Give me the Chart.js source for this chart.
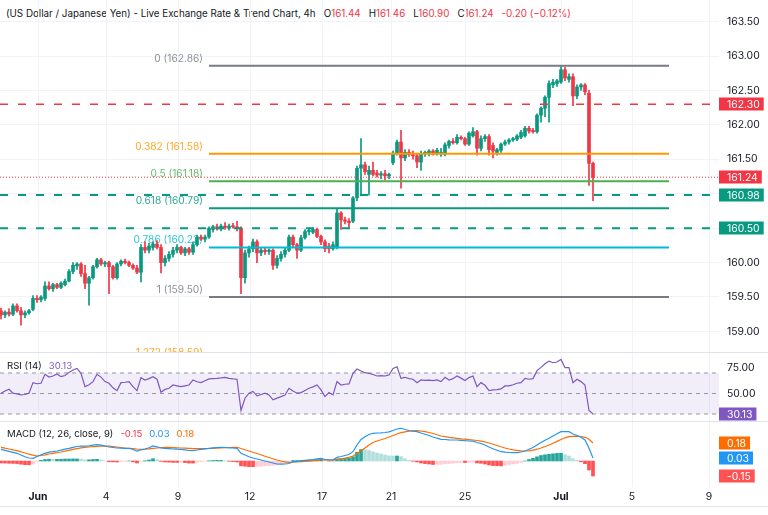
<!DOCTYPE html>
<html>
<head>
<meta charset="utf-8">
<script src="https://cdn.jsdelivr.net/npm/chart.js@4.4.1/dist/chart.umd.min.js"></script>
<style>
  html, body { margin: 0; padding: 0; background: #fff; }
  body { width: 768px; height: 515px; position: relative; overflow: hidden;
         font-family: Inter, "Noto Sans", sans-serif; color: #131722; }
  canvas { position: absolute; left: 0; }
  .sep { position: absolute; left: 0; width: 768px; height: 1px; background: #e0e3eb; }
  .lbl { position: absolute; left: 7px; font-size: 9.6px; white-space: pre; line-height: 12px; }
  .lbl b { font-weight: normal; margin-left: 7px; }
  #title b { margin-left: 8px; }
  .up { color: #f23645; }
</style>
</head>
<body>
<div class="lbl" id="title" style="top:8px; left:6px; font-size:9.8px;">(US Dollar / Japanese Yen) - Live Exchange Rate &amp; Trend Chart, 4h<b>O<span class="up">161.44</span></b><b>H<span class="up">161.46</span></b><b>L<span class="up">160.90</span></b><b>C<span class="up">161.24</span></b><b class="up">-0.20 (−0.12%)</b></div>
<canvas id="price" width="768" height="352" style="top:0"></canvas>
<div class="sep" style="top:352px"></div>
<canvas id="rsi" width="768" height="68" style="top:353px"></canvas>
<div class="sep" style="top:421px"></div>
<canvas id="macd" width="768" height="84" style="top:422px"></canvas>
<div class="sep" style="top:506px"></div>
<div class="lbl" style="top:360px">RSI (14)<b style="color:#7e57c2">30.13</b></div>
<div class="lbl" style="top:428px">MACD (12, 26, close, 9)<b style="color:#f23645">-0.15</b><b style="color:#2196f3">0.03</b><b style="color:#ff6d00">0.18</b></div>
<script>
// ---- data: USD/JPY 4h candles, late May -> 2 Jul
const opens = [159.30,159.24,159.28,159.25,159.37,159.30,159.24,159.27,159.32,159.48,159.46,159.48,159.66,159.62,159.68,159.64,159.68,159.73,159.87,159.95,
159.98,159.84,159.70,159.78,159.94,160.04,159.98,160.00,159.94,159.78,159.98,160.02,160.00,159.96,159.92,159.86,160.22,160.18,160.22,160.27,
160.22,160.00,160.06,160.12,160.18,160.22,160.14,160.20,160.15,160.26,160.37,160.34,160.37,160.48,160.52,160.49,160.53,160.50,160.53,160.52,
160.50,159.78,160.14,160.20,160.30,160.14,160.18,160.16,160.18,159.96,160.06,160.12,160.18,160.37,160.26,160.18,160.36,160.45,160.44,160.48,
160.38,160.30,160.24,160.20,160.22,160.72,160.62,160.60,160.60,160.94,161.37,161.42,161.28,161.34,161.30,161.27,161.29,161.26,161.45,161.59,
161.75,161.52,161.60,161.57,161.55,161.46,161.58,161.58,161.62,161.58,161.58,161.58,161.70,161.76,161.74,161.82,161.80,161.72,161.84,161.90,
161.66,161.80,161.83,161.70,161.60,161.63,161.72,161.75,161.78,161.79,161.82,161.84,161.95,161.92,161.90,162.14,162.24,162.40,162.58,162.60,
162.62,162.80,162.66,162.70,162.42,162.55,162.58,162.46,161.44];
const highs = [159.34,159.30,159.33,159.40,159.40,159.35,159.30,159.32,159.52,159.52,159.52,159.72,159.72,159.70,159.70,159.72,159.76,159.90,160.00,160.00,
160.00,159.96,159.80,159.96,160.06,160.06,160.02,160.02,159.96,160.00,160.04,160.05,160.02,159.98,159.96,160.26,160.30,160.28,160.30,160.32,
160.26,160.10,160.16,160.22,160.26,160.24,160.22,160.22,160.30,160.40,160.40,160.40,160.52,160.54,160.56,160.56,160.58,160.56,160.57,160.60,
160.52,160.18,160.24,160.34,160.33,160.22,160.22,160.20,160.20,160.10,160.16,160.22,160.40,160.40,160.28,160.40,160.48,160.50,160.50,160.50,
160.40,160.33,160.28,160.30,160.78,160.74,160.66,160.64,160.96,161.40,161.80,161.46,161.40,161.46,161.34,161.32,161.34,161.30,161.62,161.78,
161.92,161.64,161.64,161.62,161.58,161.62,161.62,161.64,161.64,161.66,161.66,161.74,161.78,161.80,161.86,161.84,161.82,161.90,161.96,161.92,
161.84,161.86,161.86,161.74,161.66,161.74,161.78,161.80,161.82,161.86,161.92,161.98,161.98,161.95,162.16,162.26,162.42,162.64,162.66,162.66,
162.86,162.84,162.74,162.74,162.58,162.60,162.60,162.50,161.46];
const lows = [159.18,159.20,159.22,159.23,159.28,159.09,159.20,159.25,159.30,159.42,159.43,159.45,159.60,159.58,159.62,159.62,159.66,159.72,159.84,159.90,
159.80,159.62,159.38,159.76,159.92,159.96,159.94,159.55,159.76,159.76,159.95,159.98,159.94,159.90,159.84,159.72,160.14,160.14,160.18,160.20,
159.85,159.95,160.02,160.08,160.14,160.12,160.10,160.12,160.12,160.24,160.32,160.30,160.35,160.44,160.47,160.46,160.48,160.47,160.50,160.46,
159.55,159.70,160.08,160.16,160.00,160.10,160.12,160.12,159.90,159.92,160.02,160.08,160.16,160.22,160.06,160.16,160.34,160.40,160.42,160.36,
160.26,160.16,160.14,160.18,160.20,160.48,160.56,160.50,160.58,160.90,160.98,161.28,160.98,161.26,161.24,161.22,161.20,161.22,161.42,161.56,
161.08,161.48,161.54,161.50,161.38,161.34,161.54,161.55,161.56,161.56,161.54,161.55,161.66,161.72,161.72,161.78,161.70,161.70,161.82,161.56,
161.62,161.76,161.56,161.52,161.56,161.60,161.70,161.72,161.76,161.77,161.80,161.82,161.88,161.88,161.88,162.04,162.12,162.04,162.54,162.56,
162.60,162.64,162.62,162.28,162.38,162.50,162.44,161.12,160.90];
const closes = [159.24,159.28,159.25,159.37,159.30,159.24,159.27,159.30,159.48,159.46,159.50,159.66,159.62,159.68,159.64,159.70,159.73,159.87,159.96,159.98,
159.84,159.70,159.78,159.94,160.04,159.98,160.00,159.94,159.78,159.98,160.02,160.00,159.96,159.92,159.86,160.22,160.18,160.24,160.27,160.22,
160.00,160.06,160.12,160.18,160.22,160.14,160.20,160.15,160.26,160.37,160.34,160.37,160.50,160.52,160.49,160.53,160.51,160.53,160.52,160.49,
159.78,160.14,160.20,160.30,160.14,160.18,160.16,160.18,159.96,160.06,160.12,160.18,160.37,160.26,160.18,160.36,160.45,160.47,160.48,160.38,
160.30,160.20,160.20,160.26,160.72,160.62,160.60,160.58,160.94,161.37,161.42,161.32,161.34,161.28,161.27,161.29,161.26,161.28,161.59,161.75,
161.52,161.60,161.57,161.55,161.46,161.58,161.60,161.62,161.58,161.63,161.60,161.71,161.76,161.74,161.82,161.80,161.72,161.88,161.90,161.66,
161.80,161.83,161.64,161.62,161.64,161.72,161.75,161.78,161.80,161.84,161.89,161.95,161.91,161.90,162.14,162.24,162.40,162.60,162.62,162.64,
162.80,162.68,162.70,162.42,162.55,162.58,162.48,161.44,161.24];

const rsi = [50.3,52.5,54.1,50.3,49.5,48.6,49.0,50.3,60.6,59.5,60.0,68.7,66.0,67.1,69.0,66.4,67.5,70.6,72.9,74.5,
69.7,56.7,58.5,61.6,68.7,66.0,61.6,60.0,55.5,52.8,60.6,61.0,61.6,56.7,52.8,65.5,63.2,64.5,66.4,63.9,
51.2,54.0,55.1,58.3,57.5,56.7,57.5,58.3,63.2,61.5,60.6,62.5,64.2,64.5,64.8,65.2,65.8,64.8,64.2,63.9,
33.4,45.4,50.3,52.0,47.7,49.0,50.3,48.6,43.8,45.5,47.0,48.5,55.1,52.5,50.3,50.9,53.0,55.1,56.5,58.3,
53.5,47.0,50.9,48.6,61.6,58.3,59.0,59.3,69.7,73.9,72.0,70.3,69.7,68.5,67.1,67.5,67.1,68.1,74.5,76.1,
64.8,65.8,64.5,63.9,60.6,63.2,62.8,63.0,62.6,63.2,61.6,65.8,63.2,64.5,67.1,65.0,62.6,65.5,67.1,56.7,
60.6,58.0,52.8,53.5,53.8,54.5,57.4,57.4,58.5,60.0,60.6,64.8,63.9,64.5,72.3,75.5,79.0,81.6,80.0,80.7,
83.3,75.2,75.2,60.6,63.9,61.6,58.3,33.4,30.13];

const macd = [0.117,0.107,0.097,0.087,0.077,0.060,0.043,0.030,0.027,0.045,0.062,0.077,0.088,0.093,0.100,0.108,0.118,0.127,0.137,0.145,
0.150,0.148,0.152,0.158,0.163,0.158,0.150,0.140,0.135,0.130,0.128,0.127,0.127,0.115,0.100,0.112,0.120,0.132,0.150,0.142,
0.130,0.127,0.124,0.120,0.118,0.117,0.112,0.105,0.103,0.110,0.117,0.122,0.127,0.132,0.135,0.137,0.135,0.132,0.130,0.127,
0.077,0.060,0.043,0.030,0.020,0.010,0.000,-0.010,-0.020,-0.030,-0.032,-0.030,-0.025,-0.007,-0.005,0.000,0.005,0.010,0.015,0.022,
0.027,0.015,0.010,0.012,0.037,0.045,0.055,0.065,0.093,0.160,0.215,0.243,0.265,0.277,0.280,0.282,0.285,0.292,0.305,0.320,
0.327,0.315,0.305,0.298,0.293,0.280,0.268,0.255,0.240,0.228,0.217,0.215,0.212,0.210,0.210,0.207,0.203,0.200,0.198,0.185,
0.175,0.160,0.140,0.122,0.108,0.093,0.088,0.085,0.083,0.083,0.090,0.100,0.117,0.135,0.160,0.185,0.207,0.227,0.250,0.272,
0.293,0.295,0.293,0.270,0.255,0.237,0.210,0.127,0.030];
const signal = [0.137,0.128,0.120,0.111,0.103,0.092,0.080,0.068,0.058,0.050,0.055,0.062,0.070,0.077,0.083,0.090,0.098,0.107,0.116,0.124,
0.131,0.137,0.140,0.143,0.146,0.148,0.150,0.148,0.144,0.140,0.135,0.130,0.127,0.124,0.120,0.117,0.118,0.122,0.127,0.130,
0.134,0.137,0.136,0.134,0.132,0.130,0.128,0.126,0.124,0.123,0.123,0.124,0.125,0.127,0.129,0.131,0.133,0.135,0.136,0.137,
0.125,0.112,0.100,0.087,0.075,0.062,0.048,0.035,0.022,0.010,0.000,-0.008,-0.013,-0.012,-0.010,-0.007,-0.004,-0.001,0.003,0.007,
0.010,0.011,0.011,0.011,0.016,0.022,0.029,0.037,0.050,0.072,0.100,0.130,0.160,0.185,0.200,0.212,0.225,0.240,0.255,0.270,
0.283,0.292,0.298,0.301,0.303,0.300,0.294,0.285,0.275,0.262,0.250,0.243,0.237,0.232,0.227,0.222,0.218,0.214,0.210,0.205,
0.198,0.190,0.180,0.168,0.155,0.142,0.130,0.120,0.112,0.106,0.102,0.100,0.102,0.108,0.118,0.130,0.145,0.160,0.178,0.196,
0.215,0.232,0.243,0.247,0.248,0.245,0.237,0.217,0.180];
const hist = [-0.020,-0.021,-0.023,-0.024,-0.026,-0.032,-0.037,-0.038,-0.031,-0.005,0.007,0.015,0.018,0.016,0.017,0.018,0.020,0.020,0.021,0.021,
0.019,0.011,0.012,0.015,0.017,0.010,0.000,-0.008,-0.009,-0.010,-0.007,-0.003,0.000,-0.009,-0.020,-0.005,0.002,0.010,0.023,0.012,
-0.004,-0.010,-0.012,-0.014,-0.014,-0.013,-0.016,-0.021,-0.021,-0.013,-0.006,-0.002,0.002,0.005,0.006,0.006,0.002,-0.003,-0.006,-0.010,
-0.048,-0.052,-0.057,-0.057,-0.055,-0.052,-0.048,-0.045,-0.042,-0.040,-0.032,-0.022,-0.012,0.005,0.005,0.007,0.009,0.011,0.012,0.015,
0.017,0.004,-0.001,0.001,0.021,0.023,0.026,0.028,0.043,0.088,0.115,0.113,0.105,0.092,0.080,0.070,0.060,0.052,0.050,0.050,
0.044,0.023,0.007,-0.003,-0.010,-0.020,-0.026,-0.030,-0.035,-0.034,-0.033,-0.028,-0.025,-0.022,-0.017,-0.015,-0.015,-0.014,-0.012,-0.020,
-0.023,-0.030,-0.040,-0.046,-0.047,-0.049,-0.042,-0.035,-0.029,-0.023,-0.012,0.000,0.015,0.027,0.042,0.055,0.062,0.067,0.072,0.076,
0.078,0.063,0.050,0.023,0.007,-0.008,-0.027,-0.090,-0.150];

// x axis: bar index, tick labels at the first bar of each date shown
const tickIdx = [9.25, 26.25, 44.25, 62.25, 80.25, 97.5, 116, 140, 157.75, 177];
const tickLabels = ['Jun', '4', '9', '12', '17', '21', '25', 'Jul', '5', '9'];
const priceTicks = [159, 159.5, 160, 160.5, 161, 161.5, 162, 162.5, 163, 163.5];
const rsiTicks = [50, 75];
const rsiLevels = [70, 50, 30];

// fibonacci retracement drawn from bar 52 to bar 167
const fibLevels = ['0', '0.382', '0.5', '0.618', '0.786', '1', '1.272'];
const fibPrices = [162.86, 161.58, 161.18, 160.79, 160.22, 159.50, 158.59];
const fibFrom = 52, fibTo = 167;
const resistance = 162.30;
const supports = [160.98, 160.50];
const lastClose = 161.24;
const lastRsi = 30.13;
const lastMacd = { hist: -0.15, macd: 0.03, signal: 0.18 };

// ---- style
const FONT = 'Inter, "Noto Sans", sans-serif';
const AXIS_SIZE = 10.4;
const UP = '#089981', DOWN = '#f23645', GRID = '#f0f3fa', TEXT = '#131722';
const fibColors = ['#787b86', '#ff9800', '#4caf50', '#089981', '#00bcd4', '#787b86', '#ff9800'];
const xMin = -0.25, xMax = 179.5;

Chart.defaults.font.family = FONT;
Chart.defaults.font.size = AXIS_SIZE;
Chart.defaults.color = TEXT;

function xAxis(showLabels) {
  return {
    type: 'linear', min: xMin, max: xMax, offset: false,
    afterBuildTicks: s => { s.ticks = tickIdx.map(v => ({ value: v })); },
    afterFit: s => { s.paddingLeft = 0; s.paddingRight = 0; s.height = showLabels ? 19 : 0; },
    grid: { color: GRID, drawTicks: false, offset: false },
    border: { display: false },
    ticks: {
      display: showLabels, autoSkip: false, maxRotation: 0, padding: 4, color: TEXT,
      font: c => ({ size: AXIS_SIZE, family: FONT, weight: /^[A-Z]/.test(tickLabels[c.index] || '') ? 'bold' : 'normal' }),
      callback: (v, i) => tickLabels[i]
    }
  };
}

function yAxis(min, max, ticks, showGrid) {
  return {
    position: 'right', min: min, max: max,
    afterBuildTicks: s => { s.ticks = ticks.map(v => ({ value: v })); },
    afterFit: s => { s.width = 49; s.paddingTop = 0; s.paddingBottom = 0; },
    grid: { display: showGrid, color: GRID, drawTicks: false },
    border: { display: false },
    ticks: { display: ticks.length > 0, padding: 8, color: TEXT, callback: v => v.toFixed(2) }
  };
}

function hline(v, color, width, dash, from, to) {
  return {
    type: 'line', data: [{ x: from, y: v }, { x: to, y: v }],
    borderColor: color, borderWidth: width, borderDash: dash || [],
    pointRadius: 0, order: 1
  };
}

function boxes(items) {
  return {
    id: 'boxes',
    afterDraw(chart) {
      const ctx = chart.ctx, y = chart.scales.y, left = chart.chartArea.right;
      ctx.save();
      ctx.font = AXIS_SIZE + 'px ' + FONT;
      ctx.textBaseline = 'middle';
      items.forEach(it => {
        const py = Math.round(y.getPixelForValue(it.value));
        const w = ctx.measureText(it.text).width + 12;
        ctx.fillStyle = it.color;
        ctx.fillRect(left, py - 6.5, w, 13);
        ctx.fillStyle = '#fff';
        ctx.fillText(it.text, left + 8, py + 0.5);
      });
      ctx.restore();
    }
  };
}

const common = { responsive: false, animation: false, events: [],
  plugins: { legend: { display: false }, tooltip: { enabled: false } },
  layout: { padding: 0 } };

// ---- price pane
const pxPerYen = 68.857;
const pMax = 163 + 56 / pxPerYen, pMin = pMax - 352 / pxPerYen;

const fibLabels = {
  id: 'fibLabels',
  beforeDatasetsDraw(chart) {
    const ctx = chart.ctx, x = chart.scales.x, y = chart.scales.y;
    ctx.save();
    ctx.font = '10.2px ' + FONT;
    ctx.textAlign = 'right';
    ctx.textBaseline = 'middle';
    ctx.globalAlpha = 0.85;
    fibPrices.forEach((p, k) => {
      ctx.fillStyle = fibColors[k];
      ctx.fillText(fibLevels[k] + ' (' + p.toFixed(2) + ')', x.getPixelForValue(fibFrom) - 6, y.getPixelForValue(p) - 7);
    });
    ctx.restore();
  }
};

const candleColors = closes.map((c, i) => c >= opens[i] ? UP : DOWN);
const priceSets = [
  { type: 'bar', data: closes.map((c, i) => ({ x: i, y: [lows[i], highs[i]] })),
    backgroundColor: candleColors, barThickness: 1, grouped: false, order: 11 },
  { type: 'bar', data: closes.map((c, i) => ({ x: i, y: [opens[i], c] })),
    backgroundColor: candleColors, barThickness: 3, minBarLength: 1, grouped: false, order: 10 },
  hline(resistance, DOWN, 1.5, [8, 10], xMin, xMax),
  hline(supports[0], UP, 2, [8, 10], xMin, xMax),
  hline(supports[1], UP, 2, [8, 10], xMin, xMax),
  hline(lastClose, DOWN, 1, [1, 2], xMin, xMax)
].concat(fibPrices.map((p, k) => hline(p, fibColors[k], 2, null, fibFrom, fibTo)));

new Chart(document.getElementById('price'), {
  type: 'bar',
  data: { datasets: priceSets },
  options: Object.assign({}, common, {
    scales: { x: xAxis(false), y: yAxis(pMin, pMax, priceTicks, true) }
  }),
  plugins: [fibLabels, boxes([
    { value: resistance, text: resistance.toFixed(2), color: DOWN },
    { value: lastClose, text: lastClose.toFixed(2), color: DOWN },
    { value: supports[0], text: supports[0].toFixed(2), color: UP },
    { value: supports[1], text: supports[1].toFixed(2), color: UP }
  ])]
});

// ---- RSI pane
const rsiPx = 1.025;
const rMax = 70 + 20 / rsiPx, rMin = rMax - 68 / rsiPx;
new Chart(document.getElementById('rsi'), {
  type: 'line',
  data: { datasets: [
    { data: [{ x: xMin, y: rsiLevels[0] }, { x: xMax, y: rsiLevels[0] }], fill: { value: rsiLevels[2] },
      backgroundColor: 'rgba(126,87,194,0.1)', borderWidth: 0, pointRadius: 0, order: 5 },
    hline(rsiLevels[0], '#9598a1', 1, [4, 4], xMin, xMax),
    hline(rsiLevels[1], '#9598a1', 1, [4, 4], xMin, xMax),
    hline(rsiLevels[2], '#9598a1', 1, [4, 4], xMin, xMax),
    { data: rsi.map((v, i) => ({ x: i, y: v })), borderColor: '#7e57c2', borderWidth: 1.2,
      pointRadius: 0, tension: 0, order: 0 }
  ] },
  options: Object.assign({}, common, {
    scales: { x: xAxis(false), y: yAxis(rMin, rMax, rsiTicks, false) }
  }),
  plugins: [boxes([{ value: lastRsi, text: lastRsi.toFixed(2), color: '#7e57c2' }])]
});

// ---- MACD pane
const histColors = hist.map((h, i) => {
  const prev = i > 0 ? hist[i - 1] : h;
  if (h >= 0) return h >= prev ? '#26a69a' : '#b2dfdb';
  return h <= prev ? '#ff5252' : '#ffcdd2';
});
new Chart(document.getElementById('macd'), {
  type: 'bar',
  data: { datasets: [
    { type: 'bar', data: hist.map((h, i) => ({ x: i, y: h })), backgroundColor: histColors,
      barThickness: 3, grouped: false, order: 5 },
    { type: 'line', data: macd.map((v, i) => ({ x: i, y: v })), borderColor: '#2196f3',
      borderWidth: 1.2, pointRadius: 0, order: 1 },
    { type: 'line', data: signal.map((v, i) => ({ x: i, y: v })), borderColor: '#ff6d00',
      borderWidth: 1.2, pointRadius: 0, order: 2 }
  ] },
  options: Object.assign({}, common, {
    scales: { x: xAxis(true), y: yAxis(0.39 - 0.65, 0.39, [], false) }
  }),
  plugins: [boxes([
    { value: lastMacd.signal, text: lastMacd.signal.toFixed(2), color: '#ff6d00' },
    { value: lastMacd.macd, text: lastMacd.macd.toFixed(2), color: '#2196f3' },
    { value: lastMacd.hist, text: lastMacd.hist.toFixed(2), color: '#ff5252' }
  ])]
});
</script>
</body>
</html>
